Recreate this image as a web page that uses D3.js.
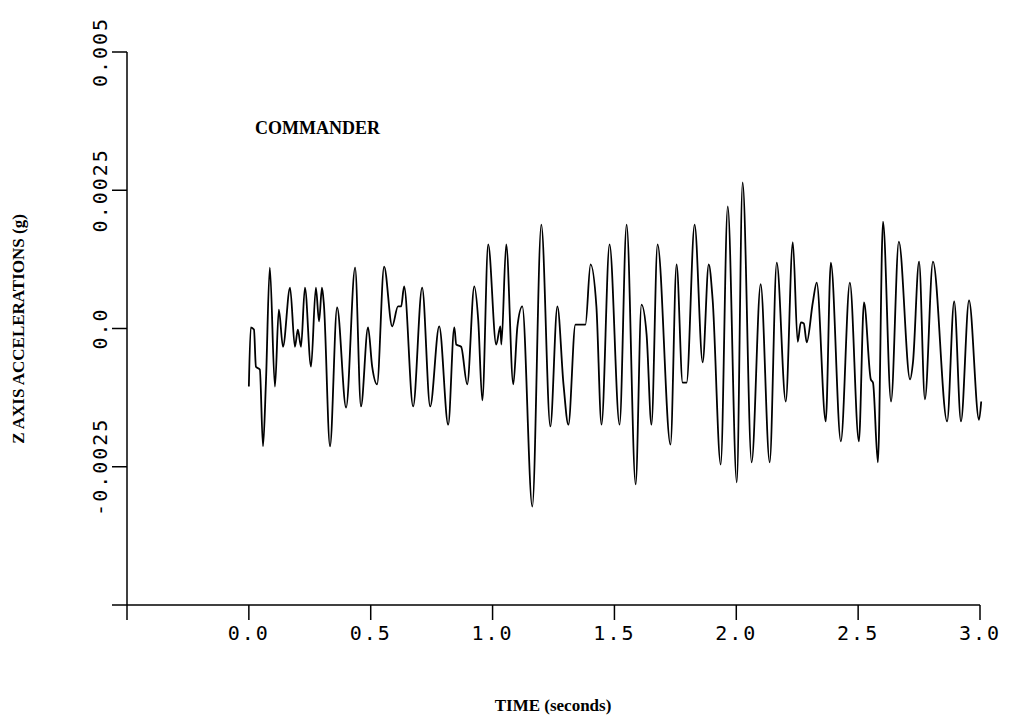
<!DOCTYPE html>
<html><head><meta charset="utf-8">
<script src="https://cdn.jsdelivr.net/npm/d3@7"></script>
<style>body{margin:0;background:#fff}</style>
</head><body><svg id="c" width="1013" height="722"></svg>
<script>
// time (s) and Z acceleration (milli-g)
const time = [0.0,0.008,0.021,0.029,0.045,0.058,0.070,0.086,0.107,0.123,0.140,0.169,0.189,0.201,0.214,0.230,0.255,0.275,0.288,0.300,0.308,0.333,0.362,0.399,0.436,0.460,0.489,0.506,0.526,0.555,0.588,0.612,0.625,0.637,0.674,0.711,0.744,0.781,0.818,0.843,0.851,0.871,0.896,0.925,0.941,0.958,0.982,1.015,1.032,1.036,1.056,1.085,1.102,1.122,1.163,1.200,1.237,1.266,1.291,1.311,1.340,1.381,1.402,1.426,1.447,1.480,1.521,1.550,1.587,1.611,1.632,1.652,1.677,1.730,1.755,1.780,1.796,1.829,1.862,1.887,1.903,1.936,1.965,2.002,2.026,2.063,2.100,2.137,2.166,2.203,2.232,2.252,2.265,2.277,2.289,2.314,2.330,2.367,2.388,2.429,2.466,2.503,2.524,2.552,2.561,2.581,2.602,2.635,2.667,2.713,2.725,2.750,2.774,2.807,2.865,2.894,2.922,2.955,2.996,3.005];
const accel = [-1.05,0.02,-0.02,-0.69,-0.74,-2.13,-0.98,1.10,-1.05,0.34,-0.33,0.74,-0.33,-0.02,-0.33,0.74,-0.69,0.74,0.13,0.74,0.43,-2.13,0.38,-1.43,1.10,-1.41,0.02,-0.69,-1.01,1.12,0.04,0.40,0.40,0.76,-1.41,0.74,-1.41,0.04,-1.74,0.02,-0.29,-0.33,-1.01,0.76,0.16,-1.30,1.52,-0.29,0.04,-0.29,1.52,-1.01,0.04,0.40,-3.22,1.88,-1.77,0.40,-1.01,-1.74,0.07,0.07,1.16,0.40,-1.74,1.52,-1.74,1.88,-2.82,0.43,-0.11,-1.74,1.52,-2.10,1.16,-0.98,-0.98,1.88,-0.61,1.16,0.52,-2.46,2.21,-2.78,2.64,-2.42,0.80,-2.42,1.19,-1.32,1.56,-0.24,0.11,0.09,-0.25,0.47,0.83,-1.68,1.19,-2.04,0.83,-2.04,0.47,-0.92,-0.98,-2.42,1.93,-1.32,1.57,-0.92,-0.61,1.21,-1.28,1.21,-1.68,0.49,-1.68,0.51,-1.65,-1.32];
const xTicks = [-0.5,0.0,0.5,1.0,1.5,2.0,2.5,3.0];
const yTicks = [-0.005,-0.0025,0.0,0.0025,0.005];
const yLabels = {"-0.0025":"-0.0025","0":"0.0","0.0025":"0.0025","0.005":"0.005"};

const svg = d3.select('#c');
const x = d3.scaleLinear().domain([-0.5,3.0]).range([127,980]);
const y = d3.scaleLinear().domain([-0.005,0.005]).range([605,52]);
const mono = 'DejaVu Sans Mono', serif = 'Liberation Serif';

// axes
svg.append('line').attr('x1',127).attr('x2',980).attr('y1',605).attr('y2',605).attr('stroke','#000').attr('stroke-width',1.5);
svg.append('line').attr('x1',127).attr('x2',127).attr('y1',52).attr('y2',605).attr('stroke','#000').attr('stroke-width',1.5);
svg.selectAll('.xt').data(xTicks).join('line')
  .attr('x1',d=>x(d)).attr('x2',d=>x(d)).attr('y1',605).attr('y2',620)
  .attr('stroke','#000').attr('stroke-width',1.5);
svg.selectAll('.xl').data(xTicks.filter(d=>d>=0)).join('text')
  .attr('x',d=>x(d)).attr('y',640).attr('text-anchor','middle')
  .attr('font-family',mono).attr('font-size',20).attr('letter-spacing',2)
  .text(d=>d.toFixed(1));
svg.selectAll('.yt').data(yTicks).join('line')
  .attr('x1',112).attr('x2',127).attr('y1',d=>y(d)).attr('y2',d=>y(d))
  .attr('stroke','#000').attr('stroke-width',1.5);
svg.selectAll('.yl').data(yTicks.filter(d=>yLabels[String(d)])).join('text')
  .attr('transform',d=>`translate(107,${y(d)}) rotate(-90)`)
  .attr('text-anchor','middle')
  .attr('font-family',mono).attr('font-size',20).attr('letter-spacing',2)
  .text(d=>yLabels[String(d)]);

// trace
const pts = time.map((t,i)=>[t,accel[i]/1000]);
svg.append('path').datum(pts)
  .attr('d',d3.line().x(d=>x(d[0])).y(d=>y(d[1])).curve(d3.curveMonotoneX))
  .attr('fill','none').attr('stroke','#000').attr('stroke-width',1.8);

// labels
svg.append('text').attr('x',255).attr('y',134).attr('font-family',serif).attr('font-weight','bold')
  .attr('font-size',18).text('COMMANDER');
svg.append('text').attr('transform','translate(24,329) rotate(-90)').attr('text-anchor','middle')
  .attr('font-family',serif).attr('font-weight','bold').attr('font-size',17).text('Z AXIS ACCELERATIONS (g)');
svg.append('text').attr('x',553).attr('y',711).attr('text-anchor','middle')
  .attr('font-family',serif).attr('font-weight','bold').attr('font-size',17).text('TIME (seconds)');
</script></body></html>
